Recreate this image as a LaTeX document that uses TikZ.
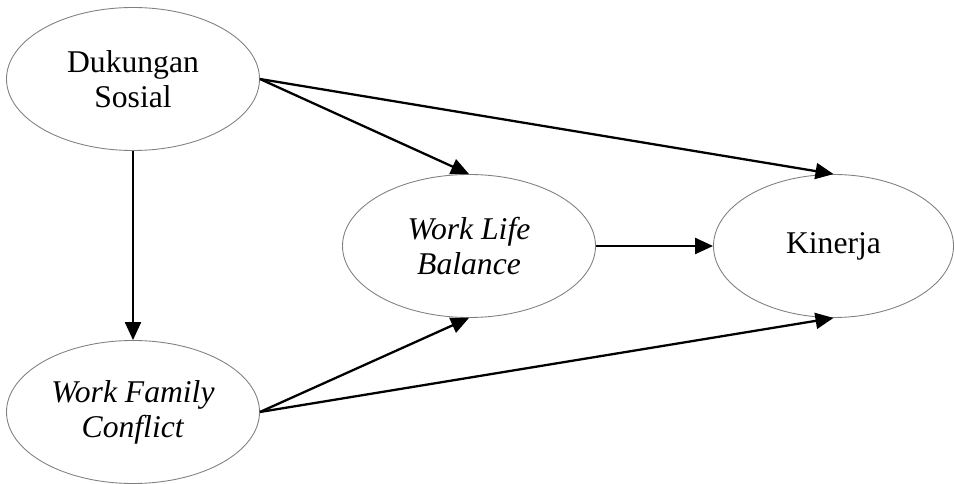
\documentclass[tikz,border=0pt]{standalone}
\usepackage{fontspec}
\setmainfont{Liberation Serif}
\usetikzlibrary{shapes.geometric,arrows.meta}
\tikzset {>={Triangle[length=0.36cm,width=0.32cm]}}

\begin{document}
\begin{tikzpicture}[scale=1,
  var/.style={ellipse,draw=gray,line width=0.5pt,inner sep=0pt,align=center,
    minimum width=5.06cm,minimum height=2.86cm,font=\fontsize{18}{20}\selectfont},
  path/.style={->,line width=1.3pt}]
\useasboundingbox (0,0) rectangle (19.08,-9.68);
\node[var] (DS) at (2.66,-1.58) {Dukungan\\Sosial};
\node[var] (WFC) at (2.66,-8.24) {\textit{Work Family}\\\textit{Conflict}};
\node[var] (WLB) at (9.38,-4.92) {\textit{Work Life}\\\textit{Balance}};
\node[var,minimum width=4.8cm] (K) at (16.67,-4.92) {Kinerja};

\draw[path] (DS.south) -- (WFC.north);
\draw[path] (DS.east) -- (WLB.north);
\draw[path] (DS.east) -- (K.north);
\draw[path] (WLB.east) -- (K.west);
\draw[path] (WFC.east) -- (WLB.south);
\draw[path] (WFC.east) -- (K.south);

\end{tikzpicture}
\end{document}
